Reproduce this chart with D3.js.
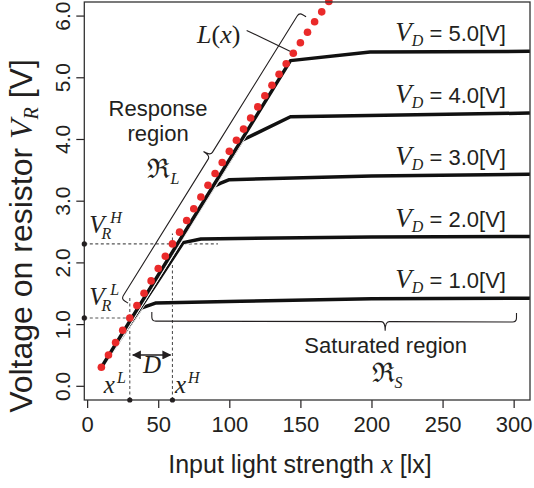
<!DOCTYPE html>
<html>
<head>
<meta charset="utf-8">
<script src="https://cdn.jsdelivr.net/npm/d3@7"></script>
<style>
  body { margin: 0; background: #fff; }
  svg { display: block; }
</style>
</head>
<body>
<script>
// light strength of the L(x) model points [lx] and its voltage [V]
var modelLux = [10, 15, 20, 25, 30, 35, 40, 45, 50, 55, 60, 65, 70, 75, 80, 85, 90, 95,
                100, 105, 110, 115, 120, 125, 130, 135, 140, 145, 150, 155, 160, 165, 170];
var modelVolt = [0.30, 0.50, 0.70, 0.90, 1.10, 1.30, 1.50, 1.70, 1.90, 2.10, 2.30, 2.49, 2.68, 2.87,
                 3.06, 3.25, 3.44, 3.62, 3.80, 3.98, 4.16, 4.34, 4.52, 4.70, 4.87, 5.05, 5.22,
                 5.39, 5.56, 5.73, 5.90, 6.06, 6.23];

// measured curves, one per drive voltage V_D
var driveLevels = ['1.0', '2.0', '3.0', '4.0', '5.0'];
var curveLux = [
    [10, 38, 48, 108, 200, 311],
    [10, 67.5, 80, 200, 311],
    [10, 89, 93.5, 100, 200, 311],
    [10, 109, 143, 311],
    [10, 143, 199, 311]
];
var curveVolt = [
    [0.30, 1.26, 1.34, 1.37, 1.41, 1.42],
    [0.30, 2.32, 2.38, 2.41, 2.42],
    [0.30, 3.23, 3.28, 3.34, 3.40, 3.43],
    [0.30, 3.98, 4.36, 4.42],
    [0.30, 5.27, 5.41, 5.42]
];

var xTicks = [0, 50, 100, 150, 200, 250, 300];
var yTicks = [0, 1, 2, 3, 4, 5, 6];

// thresholds of the response region
var xLow = 30, xHigh = 60, vLow = 1.1, vHigh = 2.3;

var ink = '#231f20',
    red = '#ea2a2a',
    sans = '"Liberation Sans", Arial, Helvetica, sans-serif',
    serif = '"Liberation Serif", "Times New Roman", serif',
    frak = '"DejaVu Serif", "Liberation Serif", serif';

var width = 534, height = 488;

var svg = d3.select('body').append('svg')
    .attr('width', width)
    .attr('height', height);

var x = d3.scaleLinear().domain([-2, 311.5]).range([84.3, 530]);
var y = d3.scaleLinear().domain([-0.23, 6.22]).range([400, 2]);

var x0 = x.range()[0], x1 = x.range()[1], yb = y.range()[0], yt = y.range()[1];

svg.append('defs').append('clipPath').attr('id', 'plot')
    .append('rect')
    .attr('x', x0).attr('y', yt)
    .attr('width', x1 - x0).attr('height', yb - yt);

// Axes
var gx = svg.append('g')
    .attr('transform', 'translate(0,' + yb + ')')
    .call(d3.axisBottom(x).tickValues(xTicks).tickSize(8).tickPadding(8));
gx.select('.domain').remove();
gx.attr('font-size', 22).attr('font-family', sans).attr('color', ink);
gx.selectAll('line').attr('stroke-width', 1.2);

var gy = svg.append('g')
    .attr('transform', 'translate(' + x0 + ',0)')
    .call(d3.axisLeft(y).tickValues(yTicks).tickSize(8).tickFormat(d3.format('.1f')));
gy.select('.domain').remove();
gy.attr('font-size', 21).attr('font-family', sans).attr('color', ink);
gy.selectAll('line').attr('stroke-width', 1.2);
gy.selectAll('text')
    .attr('transform', 'rotate(-90)')
    .attr('x', 0)
    .attr('y', -14.5)
    .attr('dy', null)
    .attr('text-anchor', 'middle');

// Axis titles
var xt = svg.append('text')
    .attr('x', 300).attr('y', 473)
    .attr('text-anchor', 'middle')
    .attr('font-family', sans).attr('font-size', 25).attr('fill', ink);
xt.append('tspan').text('Input light strength ');
xt.append('tspan').attr('font-family', serif).attr('font-style', 'italic').attr('font-size', 27).text('x');
xt.append('tspan').text(' [lx]');

var ytl = svg.append('text')
    .attr('transform', 'translate(32,236) rotate(-90)')
    .attr('text-anchor', 'middle')
    .attr('font-family', sans).attr('font-size', 32).attr('fill', ink);
ytl.append('tspan').text('Voltage on resistor ');
ytl.append('tspan').attr('font-family', serif).attr('font-style', 'italic').text('V');
ytl.append('tspan').attr('font-family', serif).attr('font-style', 'italic').attr('font-size', 20).attr('dy', 6).text('R');
ytl.append('tspan').attr('dy', -6).text(' [V]');

// Threshold guides
var guides = [
    [[-2, vHigh], [92, vHigh]],
    [[-2, vLow], [37, vLow]],
    [[xLow, -0.23], [xLow, 1.45]],
    [[xHigh, -0.23], [xHigh, 2.47]]
];
svg.selectAll('.guide').data(guides).enter().append('line')
    .attr('class', 'guide')
    .attr('x1', function(d) { return x(d[0][0]); })
    .attr('y1', function(d) { return y(d[0][1]); })
    .attr('x2', function(d) { return x(d[1][0]); })
    .attr('y2', function(d) { return y(d[1][1]); })
    .attr('stroke', '#555')
    .attr('stroke-width', 1.1)
    .attr('stroke-dasharray', '3,2.5');

// Curves
var line = d3.line()
    .x(function(d) { return x(d[0]); })
    .y(function(d) { return y(d[1]); });

var curves = curveLux.map(function(xs, i) {
    return xs.map(function(v, j) { return [v, curveVolt[i][j]]; });
});

var gc = svg.append('g').attr('clip-path', 'url(#plot)');
curves.forEach(function(c) {
    gc.append('path').attr('d', line(c))
        .attr('fill', 'none').attr('stroke', '#fff').attr('stroke-width', 4.9)
        .attr('stroke-linejoin', 'round').attr('stroke-linecap', 'round');
    gc.append('path').attr('d', line(c))
        .attr('fill', 'none').attr('stroke', '#111').attr('stroke-width', 3.5)
        .attr('stroke-linejoin', 'round').attr('stroke-linecap', 'round');
});

// L(x) points
svg.selectAll('.model').data(modelLux).enter().append('circle')
    .attr('class', 'model')
    .attr('cx', function(d) { return x(d); })
    .attr('cy', function(d, i) { return y(modelVolt[i]); })
    .attr('r', 3.8)
    .attr('fill', red);

// Frame
svg.append('rect')
    .attr('x', x0).attr('y', yt)
    .attr('width', x1 - x0).attr('height', yb - yt)
    .attr('fill', 'none').attr('stroke', '#333').attr('stroke-width', 1.3);

// Threshold markers on the frame
var marks = [[-2, vHigh], [-2, vLow], [xLow, -0.23], [xHigh, -0.23]];
svg.selectAll('.mark').data(marks).enter().append('circle')
    .attr('cx', function(d) { return x(d[0]); })
    .attr('cy', function(d) { return y(d[1]); })
    .attr('r', 2.6)
    .attr('fill', ink);

// V_D labels
driveLevels.forEach(function(lv) {
    var t = svg.append('text')
        .attr('x', x(294.6)).attr('y', y(+lv + 0.58))
        .attr('text-anchor', 'end')
        .attr('font-family', sans).attr('font-size', 22).attr('fill', ink);
    t.append('tspan').attr('font-family', serif).attr('font-style', 'italic').attr('font-size', 27).text('V');
    t.append('tspan').attr('font-family', serif).attr('font-style', 'italic').attr('font-size', 16).attr('dy', 5).text('D');
    t.append('tspan').attr('dy', -5).text(' = ' + lv + '[V]');
});

// Curly braces
function bracePath(p1, p2, h, r, tip, t, side) {
    var dx = p2[0] - p1[0], dy = p2[1] - p1[1], len = Math.hypot(dx, dy);
    var ux = dx / len, uy = dy / len, nx = uy * side, ny = -ux * side;
    function pt(a, b) { return [p1[0] + ux * a + nx * b, p1[1] + uy * a + ny * b]; }
    var m = len * t, p = d3.path(), q;
    p.moveTo.apply(p, pt(0, 0));
    p.lineTo.apply(p, pt(0, h - r));
    q = pt(0, h).concat(pt(r, h)); p.quadraticCurveTo.apply(p, q);
    p.lineTo.apply(p, pt(m - r, h));
    q = pt(m, h).concat(pt(m, h + tip)); p.quadraticCurveTo.apply(p, q);
    q = pt(m, h).concat(pt(m + r, h)); p.quadraticCurveTo.apply(p, q);
    p.lineTo.apply(p, pt(len - r, h));
    q = pt(len, h).concat(pt(len, h - r)); p.quadraticCurveTo.apply(p, q);
    p.lineTo.apply(p, pt(len, 0));
    return p.toString();
}

svg.append('path')
    .attr('d', bracePath([x(28.8), y(1.34)], [x(154), y(5.98)], 8, 4, 8, 0.5, 1))
    .attr('fill', 'none').attr('stroke', ink).attr('stroke-width', 1.1);

svg.append('path')
    .attr('d', bracePath([x(45.5), y(1.195)], [x(302), y(1.18)], 9, 4, 9, 0.64, -1))
    .attr('fill', 'none').attr('stroke', ink).attr('stroke-width', 1.1);

// L(x) label and leader
svg.append('line')
    .attr('x1', x(112.2)).attr('y1', y(5.76))
    .attr('x2', x(142.7)).attr('y2', y(5.42))
    .attr('stroke', ink).attr('stroke-width', 1.1);
var lx = svg.append('text')
    .attr('x', x(77.3)).attr('y', y(5.56))
    .attr('font-family', serif).attr('font-size', 26).attr('fill', ink);
lx.append('tspan').attr('font-style', 'italic').text('L');
lx.append('tspan').text('(');
lx.append('tspan').attr('font-style', 'italic').text('x');
lx.append('tspan').text(')');

// Region labels
function label(txt, vx, vy) {
    return svg.append('text')
        .attr('x', x(vx)).attr('y', y(vy))
        .attr('text-anchor', 'middle')
        .attr('font-family', sans).attr('font-size', 22).attr('fill', ink)
        .text(txt);
}
label('Response', 49.9, 4.37);
label('region', 49.9, 3.96);
label('Saturated region', 210, 0.525);

function frakLabel(vx, vy, sub) {
    var t = svg.append('text')
        .attr('x', x(vx)).attr('y', y(vy))
        .attr('font-family', frak).attr('font-size', 27).attr('fill', ink);
    t.append('tspan').text('\u211C');
    t.append('tspan').attr('font-family', serif).attr('font-style', 'italic')
        .attr('font-size', 16).attr('dy', 6).text(sub);
}
frakLabel(42.4, 3.37, 'L');
frakLabel(200.1, 0.065, 'S');

// Threshold labels
function supSub(px, py, base, sup, sub, anchor) {
    var t = svg.append('text')
        .attr('x', px).attr('y', py)
        .attr('text-anchor', anchor || 'start')
        .attr('font-family', serif).attr('font-style', 'italic').attr('font-size', 25).attr('fill', ink);
    t.append('tspan').text(base);
    if (sub) {
        t.append('tspan').attr('font-size', 16).attr('dy', 6).attr('dx', -3).text(sub);
        t.append('tspan').attr('font-size', 16).attr('dy', -16).attr('dx', -1).text(sup);
    } else {
        t.append('tspan').attr('font-size', 16).attr('dy', -10).attr('dx', 2).text(sup);
    }
}
supSub(x(-2) + 5, y(vHigh) - 11, 'V', 'H', 'R');
supSub(x(-2) + 5, y(vLow) - 13, 'V', 'L', 'R');
supSub(x(xLow) - 4, yb - 7, 'x', 'L', null, 'end');
supSub(x(xHigh) + 2.5, yb - 7, 'x', 'H', null, 'start');

// D arrow
var dv = 0.5;
svg.append('defs').append('marker')
    .attr('id', 'head').attr('viewBox', '0 0 10 10')
    .attr('refX', 9).attr('refY', 5)
    .attr('markerWidth', 9).attr('markerHeight', 9)
    .attr('markerUnits', 'userSpaceOnUse')
    .attr('orient', 'auto-start-reverse')
    .append('path').attr('d', 'M0,0L10,5L0,10Z').attr('fill', ink);
svg.append('line')
    .attr('x1', x(xLow) + 3).attr('y1', y(dv))
    .attr('x2', x(xHigh) - 2).attr('y2', y(dv))
    .attr('stroke', ink).attr('stroke-width', 1.6)
    .attr('marker-start', 'url(#head)')
    .attr('marker-end', 'url(#head)');
svg.append('text')
    .attr('x', (x(xLow) + x(xHigh)) / 2 + 1).attr('y', y(dv) + 18)
    .attr('text-anchor', 'middle')
    .attr('font-family', serif).attr('font-style', 'italic').attr('font-size', 25).attr('fill', ink)
    .text('D');
</script>
</body>
</html>
